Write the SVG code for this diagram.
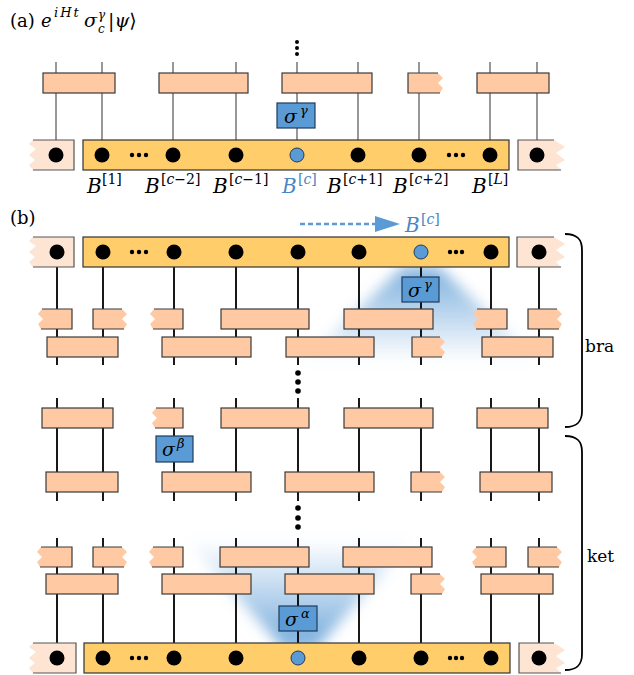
<svg xmlns="http://www.w3.org/2000/svg" width="634" height="675" viewBox="0 0 634 675">
<style>
.it{font-style:italic;fill:#000}
.rm{fill:#000}
.blue{fill:#4A86C5}
.g{fill:#FFC9A3;stroke:#3a3a3a;stroke-width:1.2}
.gf{fill:#FFC9A3;stroke:none}
.gs{fill:none;stroke:#3a3a3a;stroke-width:1.2}
.mps{fill:#FFCD69;stroke:#333;stroke-width:1.2}
.edge{fill:#FDE4D3;stroke:none}
.edges{fill:none;stroke:#555;stroke-width:1.2}
.sig{fill:#5B9BD5;stroke:#1F3B5C;stroke-width:1.2}
.site{fill:#000}
.csite{fill:#5B9BD5;stroke:#1F3B5C;stroke-width:1}
.wa{stroke:#444;stroke-width:1.1;fill:none}
.wb{stroke:#000;stroke-width:1.8;fill:none}
.brace{stroke:#000;stroke-width:1.8;fill:none}
</style>
<defs>
<filter id="blur" x="-50%" y="-50%" width="200%" height="200%"><feGaussianBlur stdDeviation="7"/></filter>
<linearGradient id="gtop" gradientUnits="userSpaceOnUse" x1="0" y1="267" x2="0" y2="362">
<stop offset="0" stop-color="#5B9BD5" stop-opacity="0.8"/>
<stop offset="1" stop-color="#5B9BD5" stop-opacity="0"/>
</linearGradient>
<linearGradient id="gbot" gradientUnits="userSpaceOnUse" x1="0" y1="648" x2="0" y2="540">
<stop offset="0" stop-color="#5B9BD5" stop-opacity="0.85"/>
<stop offset="1" stop-color="#5B9BD5" stop-opacity="0"/>
</linearGradient>
</defs>

<g id="glows">
<polygon points="403,267 439,267 539,362 303,362" fill="url(#gtop)" filter="url(#blur)"/>
<polygon points="283,648 317,648 412,540 186,540" fill="url(#gbot)" filter="url(#blur)"/>
</g>

<g id="connectors">
<g class="wa">
<path d="M56,62V140M102,62V140M173,62V140M236,62V140M297,62V140M358,62V140M419,62V140M490,62V140M537,62V140"/>
</g>
<g class="wb">
<path d="M57,267V365M103,267V365M174,267V365M236,267V365M298,267V365M359,267V365M421,267V365M491,267V365M539,267V365"/>
<path d="M57,398V501M103,398V501M174,398V501M236,398V501M298,398V501M359,398V501M421,398V501M491,398V501M539,398V501"/>
<path d="M57,538V643M103,538V643M174,538V643M236,538V643M298,538V643M359,538V643M421,538V643M491,538V643M539,538V643"/>
</g>
<g id="vdots" fill="#000">
<circle cx="297" cy="42" r="2"/><circle cx="297" cy="48" r="2"/><circle cx="297" cy="54" r="2"/>
<circle cx="298" cy="373" r="2.8"/><circle cx="298" cy="382" r="2.8"/><circle cx="298" cy="391" r="2.8"/>
<circle cx="298" cy="508" r="2.8"/><circle cx="298" cy="518" r="2.8"/><circle cx="298" cy="527" r="2.8"/>
</g>
<g id="arrow">
<path d="M300,224H375" stroke="#5B9BD5" stroke-width="2.5" stroke-dasharray="5,3" fill="none"/>
<polygon points="375,216 400,224 375,232" fill="#5B9BD5"/>
</g>
</g>

<g font-family="DejaVu Serif, serif">
<g id="title">
<text x="10" y="27" class="rm" font-size="18">(a)</text>
<text x="41" y="27" class="it" font-size="18">e</text>
<text x="54" y="17" class="it" font-size="13" letter-spacing="2">iHt</text>
<text x="84" y="27" class="it" font-size="19">σ</text>
<text x="98" y="19" class="it" font-size="12">γ</text>
<text x="98" y="33" class="it" font-size="12">c</text>
<text x="108" y="27" class="rm" font-size="19">|<tspan class="it">ψ</tspan>⟩</text>
<text x="10" y="224" class="rm" font-size="18">(b)</text>
</g>

<g id="gates-a">
<rect class="g" x="43" y="73" width="72" height="20"/>
<rect class="g" x="159" y="73" width="89" height="20"/>
<rect class="g" x="282" y="73" width="90" height="20"/>
<g><path class="gf" d="M408,73H438L443,78L438,83L443,88L440,93H408Z"/><path class="gs" d="M438,73H408V93H440"/></g>
<rect class="g" x="477" y="73" width="72" height="20"/>
</g>
<g id="sigma-a">
<rect class="sig" x="277" y="103" width="38" height="25"/>
<text x="284" y="123" class="it" font-size="19">σ</text>
<text x="300" y="115" class="it" font-size="13">γ</text>
</g>
<g id="mps-a">
<path class="edge" d="M74,140H33L29,144L36,149L29,155L35,160L29,165L33,170H74Z"/><path class="edges" d="M33,140H74V170H33"/>
<rect class="mps" x="83" y="140" width="426" height="30"/>
<path class="edge" d="M518,140H554L565,147L556,153L565,160L556,165L561,170H518Z"/><path class="edges" d="M554,140H518V170H561"/>
<circle class="site" cx="56" cy="155" r="7.5"/>
<circle class="site" cx="102" cy="155" r="7.5"/>
<circle class="site" cx="132" cy="155" r="2.2"/><circle class="site" cx="139" cy="155" r="2.2"/><circle class="site" cx="146" cy="155" r="2.2"/>
<circle class="site" cx="173" cy="155" r="7.5"/>
<circle class="site" cx="236" cy="155" r="7.5"/>
<circle class="csite" cx="297" cy="155" r="7"/>
<circle class="site" cx="358" cy="155" r="7.5"/>
<circle class="site" cx="419" cy="155" r="7.5"/>
<circle class="site" cx="449" cy="155" r="2.2"/><circle class="site" cx="456" cy="155" r="2.2"/><circle class="site" cx="463" cy="155" r="2.2"/>
<circle class="site" cx="490" cy="155" r="7.5"/>
<circle class="site" cx="537" cy="155" r="7.5"/>
</g>
<g id="labels-a">
<text x="87" y="193" class="it" font-size="20">B</text><text x="102" y="184" class="rm" font-size="14">[1]</text>
<text x="145" y="193" class="it" font-size="20">B</text><text x="161" y="184" class="rm" font-size="14">[<tspan class="it">c</tspan>−2]</text>
<text x="213" y="193" class="it" font-size="20">B</text><text x="229" y="184" class="rm" font-size="14">[<tspan class="it">c</tspan>−1]</text>
<text x="282" y="193" class="it blue" font-size="20">B</text><text x="298" y="184" class="rm blue" font-size="14">[<tspan class="it blue">c</tspan>]</text>
<text x="327" y="193" class="it" font-size="20">B</text><text x="343" y="184" class="rm" font-size="14">[<tspan class="it">c</tspan>+1]</text>
<text x="393" y="193" class="it" font-size="20">B</text><text x="409" y="184" class="rm" font-size="14">[<tspan class="it">c</tspan>+2]</text>
<text x="472" y="193" class="it" font-size="20">B</text><text x="488" y="184" class="rm" font-size="14">[<tspan class="it">L</tspan>]</text>
</g>

<g id="label-bc">
<text x="405" y="232" class="it blue" font-size="20">B</text><text x="421" y="224" class="rm blue" font-size="14">[<tspan class="it blue">c</tspan>]</text>
</g>

<g id="mps-bra">
<path class="edge" d="M74,237H33L29,241L36,246L29,252L35,257L29,262L33,267H74Z"/><path class="edges" d="M33,237H74V267H33"/>
<rect class="mps" x="83" y="237" width="426" height="30"/>
<path class="edge" d="M517,237H554L565,244L556,250L565,257L556,262L561,267H517Z"/><path class="edges" d="M554,237H517V267H561"/>
<circle class="site" cx="57" cy="252" r="7.5"/>
<circle class="site" cx="103" cy="252" r="7.5"/>
<circle class="site" cx="132" cy="252" r="2.2"/><circle class="site" cx="139" cy="252" r="2.2"/><circle class="site" cx="146" cy="252" r="2.2"/>
<circle class="site" cx="174" cy="252" r="7.5"/>
<circle class="site" cx="236" cy="252" r="7.5"/>
<circle class="site" cx="298" cy="252" r="7.5"/>
<circle class="site" cx="359" cy="252" r="7.5"/>
<circle class="csite" cx="421" cy="252" r="7"/>
<circle class="site" cx="450" cy="252" r="2.2"/><circle class="site" cx="456" cy="252" r="2.2"/><circle class="site" cx="462" cy="252" r="2.2"/>
<circle class="site" cx="491" cy="252" r="7.5"/>
<circle class="site" cx="539" cy="252" r="7.5"/>
</g>

<g id="sigma-gamma">
<rect class="sig" x="402" y="277" width="37" height="25"/>
<text x="408" y="297" class="it" font-size="19">σ</text>
<text x="424" y="289" class="it" font-size="13">γ</text>
</g>

<g id="row1">
<g><path class="gf" d="M72,309H42L38,314L43,319L38,324L41,329H72Z"/><path class="gs" d="M42,309H72V329H41"/></g>
<g><path class="gf" d="M93,309H122L127,314L122,319L127,324L124,329H93Z"/><path class="gs" d="M122,309H93V329H124"/></g>
<g><path class="gf" d="M183,309H154L150,314L155,319L150,324L153,329H183Z"/><path class="gs" d="M154,309H183V329H153"/></g>
<rect class="g" x="221" y="309" width="88" height="20"/>
<rect class="g" x="344" y="309" width="89" height="20"/>
<g><path class="gf" d="M507,309H477L473,314L478,319L473,324L476,329H507Z"/><path class="gs" d="M477,309H507V329H476"/></g>
<g><path class="gf" d="M528,309H557L562,314L557,319L562,324L559,329H528Z"/><path class="gs" d="M557,309H528V329H559"/></g>
</g>
<g id="row2">
<rect class="g" x="47" y="337" width="71" height="20"/>
<rect class="g" x="162" y="337" width="89" height="20"/>
<rect class="g" x="286" y="337" width="88" height="20"/>
<g><path class="gf" d="M412,337H440L445,342L440,347L445,352L442,357H412Z"/><path class="gs" d="M440,337H412V357H442"/></g>
<rect class="g" x="482" y="337" width="71" height="20"/>
</g>
<g id="row3">
<rect class="g" x="42" y="408" width="71" height="20"/>
<g><path class="gf" d="M183,408H156L152,413L157,418L152,423L155,428H183Z"/><path class="gs" d="M156,408H183V428H155"/></g>
<rect class="g" x="221" y="408" width="88" height="20"/>
<rect class="g" x="344" y="408" width="89" height="20"/>
<rect class="g" x="477" y="408" width="71" height="20"/>
</g>

<g id="sigma-beta">
<rect class="sig" x="156" y="436" width="37" height="26"/>
<text x="162" y="456" class="it" font-size="19">σ</text>
<text x="177" y="448" class="it" font-size="13">β</text>
</g>

<g id="row4">
<rect class="g" x="46" y="472" width="72" height="20"/>
<rect class="g" x="162" y="472" width="89" height="20"/>
<rect class="g" x="285" y="472" width="89" height="20"/>
<g><path class="gf" d="M411,472H440L445,477L440,482L445,487L442,492H411Z"/><path class="gs" d="M440,472H411V492H442"/></g>
<rect class="g" x="480" y="472" width="72" height="20"/>
</g>
<g id="row5">
<g><path class="gf" d="M72,547H41L37,552L42,557L37,562L40,567H72Z"/><path class="gs" d="M41,547H72V567H40"/></g>
<g><path class="gf" d="M93,547H122L127,552L122,557L127,562L124,567H93Z"/><path class="gs" d="M122,547H93V567H124"/></g>
<g><path class="gf" d="M183,547H153L149,552L154,557L149,562L152,567H183Z"/><path class="gs" d="M153,547H183V567H152"/></g>
<rect class="g" x="220" y="547" width="89" height="20"/>
<rect class="g" x="343" y="547" width="89" height="20"/>
<g><path class="gf" d="M506,547H476L472,552L477,557L472,562L475,567H506Z"/><path class="gs" d="M476,547H506V567H475"/></g>
<g><path class="gf" d="M528,547H557L562,552L557,557L562,562L559,567H528Z"/><path class="gs" d="M557,547H528V567H559"/></g>
</g>
<g id="row6">
<rect class="g" x="46" y="574" width="72" height="20"/>
<rect class="g" x="162" y="574" width="89" height="20"/>
<rect class="g" x="285" y="574" width="89" height="20"/>
<g><path class="gf" d="M411,574H440L445,579L440,584L445,589L442,594H411Z"/><path class="gs" d="M440,574H411V594H442"/></g>
<rect class="g" x="481" y="574" width="72" height="20"/>
</g>

<g id="sigma-alpha">
<rect class="sig" x="279" y="606" width="38" height="25"/>
<text x="285" y="626" class="it" font-size="19">σ</text>
<text x="301" y="618" class="it" font-size="13">α</text>
</g>

<g id="mps-ket">
<path class="edge" d="M76,643H33L29,647L36,652L29,658L35,663L29,668L33,673H76Z"/><path class="edges" d="M33,643H76V673H33"/>
<rect class="mps" x="84" y="643" width="426" height="30"/>
<path class="edge" d="M519,643H554L565,650L556,656L565,663L556,668L561,673H519Z"/><path class="edges" d="M554,643H519V673H561"/>
<circle class="site" cx="57" cy="658" r="7.5"/>
<circle class="site" cx="103" cy="658" r="7.5"/>
<circle class="site" cx="132" cy="658" r="2.2"/><circle class="site" cx="139" cy="658" r="2.2"/><circle class="site" cx="146" cy="658" r="2.2"/>
<circle class="site" cx="174" cy="658" r="7.5"/>
<circle class="site" cx="236" cy="658" r="7.5"/>
<circle class="csite" cx="298" cy="658" r="7"/>
<circle class="site" cx="359" cy="658" r="7.5"/>
<circle class="site" cx="421" cy="658" r="7.5"/>
<circle class="site" cx="450" cy="658" r="2.2"/><circle class="site" cx="456" cy="658" r="2.2"/><circle class="site" cx="462" cy="658" r="2.2"/>
<circle class="site" cx="491" cy="658" r="7.5"/>
<circle class="site" cx="539" cy="658" r="7.5"/>
</g>

<g id="braces">
<path class="brace" d="M565,234C578,234 582,240 582,250V411C582,421 578,427 565,427"/>
<path class="brace" d="M565,436C578,436 582,442 582,452V654C582,664 578,670 565,670"/>
<text x="585" y="352" class="rm" font-size="17">bra</text>
<text x="587" y="562" class="rm" font-size="17">ket</text>
</g>
</g>
</svg>
